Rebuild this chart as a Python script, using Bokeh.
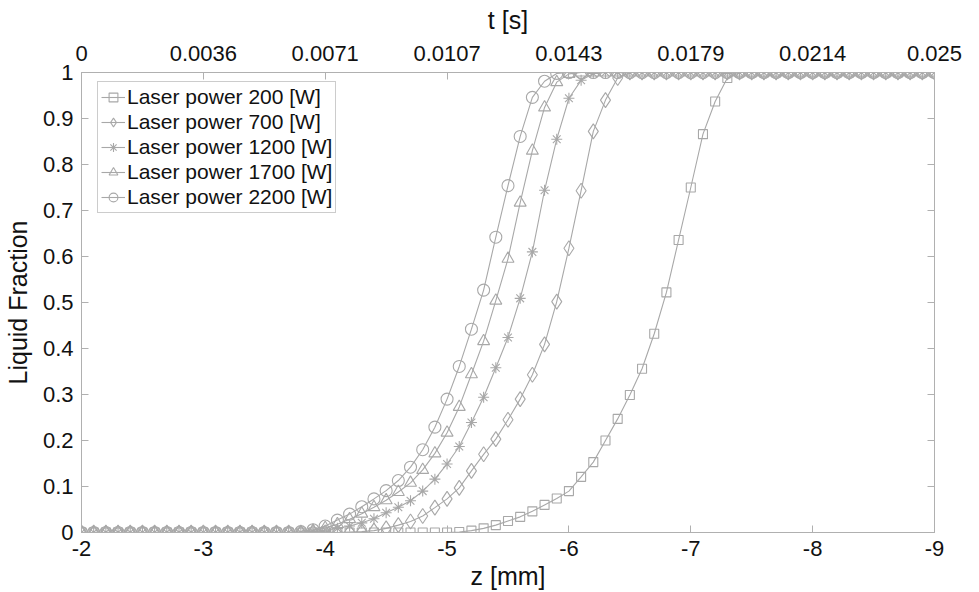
from bokeh.plotting import figure
from bokeh.models import (Range1d, LinearAxis, FixedTicker, CustomJSTickFormatter,
                          Legend, LegendItem)
from bokeh.embed import file_html
from bokeh.resources import INLINE

# ---------------- data ----------------
Z_MM = [-2.0, -2.1, -2.2, -2.3, -2.4, -2.5, -2.6, -2.7, -2.8, -2.9,
        -3.0, -3.1, -3.2, -3.3, -3.4, -3.5, -3.6, -3.7, -3.8, -3.9,
        -4.0, -4.1, -4.2, -4.3, -4.4, -4.5, -4.6, -4.7, -4.8, -4.9,
        -5.0, -5.1, -5.2, -5.3, -5.4, -5.5, -5.6, -5.7, -5.8, -5.9,
        -6.0, -6.1, -6.2, -6.3, -6.4, -6.5, -6.6, -6.7, -6.8, -6.9,
        -7.0, -7.1, -7.2, -7.3, -7.4, -7.5, -7.6, -7.7, -7.8, -7.9,
        -8.0, -8.1, -8.2, -8.3, -8.4, -8.5, -8.6, -8.7, -8.8, -8.9,
        -9.0]

LF_200W = [0, 0, 0, 0, 0, 0, 0, 0, 0, 0,
           0, 0, 0, 0, 0, 0, 0, 0, 0, 0,
           0, 0, 0, 0, 0, 0, 0, 0, 0, 0,
           0, 0.001, 0.004, 0.009, 0.016, 0.025, 0.034, 0.046, 0.060, 0.074,
           0.090, 0.121, 0.153, 0.200, 0.247, 0.299, 0.356, 0.432, 0.522, 0.636,
           0.750, 0.866, 0.937, 0.988, 1, 1, 1, 1, 1, 1,
           1, 1, 1, 1, 1, 1, 1, 1, 1, 1,
           1]

LF_700W = [0, 0, 0, 0, 0, 0, 0, 0, 0, 0,
           0, 0, 0, 0, 0, 0, 0, 0, 0, 0,
           0, 0, 0.001, 0.002, 0.004, 0.009, 0.016, 0.024, 0.036, 0.054,
           0.073, 0.097, 0.134, 0.170, 0.203, 0.245, 0.290, 0.343, 0.409, 0.502,
           0.618, 0.743, 0.872, 0.940, 0.988, 1, 1, 1, 1, 1,
           1, 1, 1, 1, 1, 1, 1, 1, 1, 1,
           1, 1, 1, 1, 1, 1, 1, 1, 1, 1,
           1]

LF_1200W = [0, 0, 0, 0, 0, 0, 0, 0, 0, 0,
            0, 0, 0, 0, 0, 0, 0, 0, 0, 0.002,
            0.005, 0.009, 0.014, 0.021, 0.030, 0.043, 0.055, 0.069, 0.090, 0.116,
            0.149, 0.187, 0.239, 0.294, 0.358, 0.424, 0.509, 0.610, 0.744, 0.855,
            0.944, 0.983, 0.998, 1, 1, 1, 1, 1, 1, 1,
            1, 1, 1, 1, 1, 1, 1, 1, 1, 1,
            1, 1, 1, 1, 1, 1, 1, 1, 1, 1,
            1]

LF_1700W = [0, 0, 0, 0, 0, 0, 0, 0, 0, 0,
            0, 0, 0, 0, 0, 0, 0, 0, 0, 0.004,
            0.010, 0.018, 0.029, 0.041, 0.055, 0.070, 0.088, 0.108, 0.136, 0.172,
            0.217, 0.273, 0.344, 0.416, 0.504, 0.595, 0.717, 0.830, 0.924, 0.979,
            0.997, 1, 1, 1, 1, 1, 1, 1, 1, 1,
            1, 1, 1, 1, 1, 1, 1, 1, 1, 1,
            1, 1, 1, 1, 1, 1, 1, 1, 1, 1,
            1]

LF_2200W = [0, 0, 0, 0, 0, 0, 0, 0, 0, 0,
            0, 0, 0, 0, 0, 0, 0, 0, 0.002, 0.006,
            0.014, 0.027, 0.040, 0.056, 0.073, 0.091, 0.113, 0.142, 0.180, 0.229,
            0.290, 0.361, 0.442, 0.527, 0.642, 0.754, 0.861, 0.946, 0.981, 0.998,
            1, 1, 1, 1, 1, 1, 1, 1, 1, 1,
            1, 1, 1, 1, 1, 1, 1, 1, 1, 1,
            1, 1, 1, 1, 1, 1, 1, 1, 1, 1,
            1]

SERIES_LABELS = ["Laser power 200 [W]", "Laser power 700 [W]", "Laser power 1200 [W]",
                 "Laser power 1700 [W]", "Laser power 2200 [W]"]
SERIES_VALUES = [LF_200W, LF_700W, LF_1200W, LF_1700W, LF_2200W]
SERIES_MARKERS = ["square", "diamond", "asterisk", "triangle", "circle"]

Z_TICKS = [-2, -3, -4, -5, -6, -7, -8, -9]
Z_TICK_LABELS = ["-2", "-3", "-4", "-5", "-6", "-7", "-8", "-9"]
T_TICK_LABELS = ["0", "0.0036", "0.0071", "0.0107", "0.0143", "0.0179", "0.0214", "0.025"]
Y_TICKS = [0, 0.1, 0.2, 0.3, 0.4, 0.5, 0.6, 0.7, 0.8, 0.9, 1]

# ---------------- styling ----------------
FONT = "Liberation Sans"
GRAY = "#a8a8a8"
AXIS_GRAY = "#b0b0b0"
TICK_FS = "22px"
LEGEND_FS = "21px"
LABEL_FS = "25px"
MARKER_SIZES = {"square": 9, "diamond": 15, "asterisk": 11, "triangle": 12, "circle": 12}

p = figure(width=979, height=592, output_backend="svg", toolbar_location=None,
           x_range=Range1d(-2, -9), y_range=Range1d(0, 1),
           x_axis_location=None, y_axis_location=None,
           min_border_left=80, min_border_right=45, min_border_top=72, min_border_bottom=60)
p.xgrid.visible = False
p.ygrid.visible = False
p.outline_line_color = AXIS_GRAY
p.background_fill_color = "white"
p.border_fill_color = "white"


def style_axis(ax, show_labels=True):
    ax.axis_line_color = AXIS_GRAY
    ax.major_tick_line_color = AXIS_GRAY
    ax.major_tick_in = 7
    ax.major_tick_out = 0
    ax.minor_tick_line_color = None
    ax.major_label_text_font = FONT
    ax.major_label_text_font_size = TICK_FS
    ax.major_label_text_color = "#111111"
    ax.axis_label_text_font = FONT
    ax.axis_label_text_font_size = LABEL_FS
    ax.axis_label_text_font_style = "normal"
    ax.axis_label_text_color = "#111111"
    if not show_labels:
        ax.major_label_text_alpha = 0


bottom = LinearAxis(ticker=FixedTicker(ticks=Z_TICKS), axis_label="z [mm]",
                    major_label_overrides={z: lab for z, lab in zip(Z_TICKS, Z_TICK_LABELS)})
style_axis(bottom)
bottom.major_label_standoff = 8
bottom.axis_label_standoff = 3
p.add_layout(bottom, "below")

top = LinearAxis(ticker=FixedTicker(ticks=Z_TICKS), axis_label="t [s]",
                 major_label_overrides={z: lab for z, lab in zip(Z_TICKS, T_TICK_LABELS)})
style_axis(top)
top.major_label_standoff = 12
top.axis_label_standoff = 9
p.add_layout(top, "above")

left = LinearAxis(ticker=FixedTicker(ticks=Y_TICKS), axis_label="Liquid Fraction",
                  formatter=CustomJSTickFormatter(code="return String(Number(tick.toFixed(2)));"))
style_axis(left)
left.major_label_standoff = 8
left.axis_label_standoff = 8
p.add_layout(left, "left")

right = LinearAxis(ticker=FixedTicker(ticks=Y_TICKS))
style_axis(right, show_labels=False)
right.major_label_text_font_size = "1px"
p.add_layout(right, "right")

items = []
for label, vals, marker in zip(SERIES_LABELS, SERIES_VALUES, SERIES_MARKERS):
    ln = p.line(Z_MM, vals, line_color=GRAY, line_width=1.1)
    sc = p.scatter(Z_MM, vals, marker=marker, size=MARKER_SIZES[marker],
                   line_color=GRAY, line_width=1.1, fill_color=None)
    items.append(LegendItem(label=label, renderers=[ln, sc]))

legend = Legend(items=items, location=(16, 319))
legend.label_text_font = FONT
legend.label_text_font_size = LEGEND_FS
legend.label_text_color = "#111111"
legend.border_line_color = "#999999"
legend.border_line_width = 1
legend.background_fill_color = "white"
legend.background_fill_alpha = 1
legend.glyph_width = 24
legend.glyph_height = 22
legend.label_height = 22
legend.label_standoff = 2
legend.spacing = 1
legend.padding = 3
legend.margin = 0
p.add_layout(legend, "center")

open("out.html", "w").write(file_html(p, INLINE))
